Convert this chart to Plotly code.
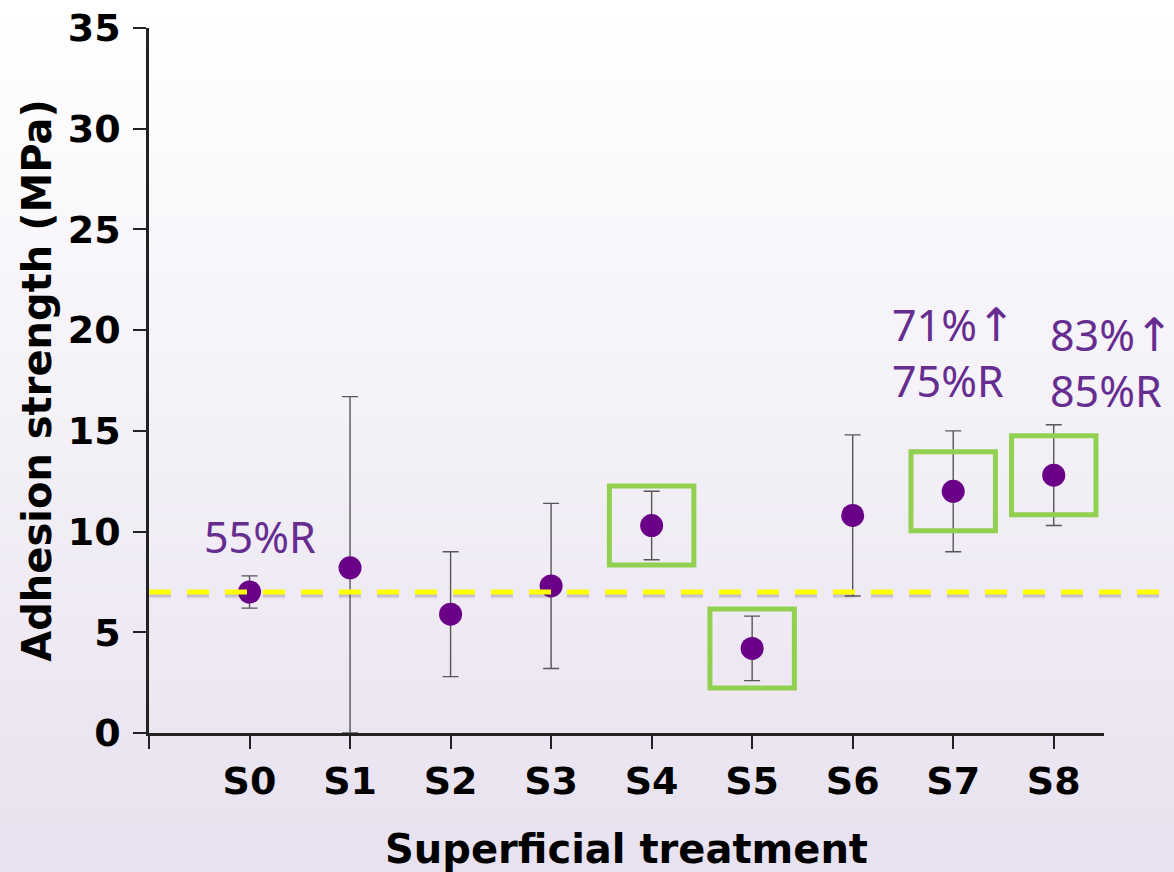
import base64
import struct
import zlib

import plotly.graph_objects as go

# ---------------- data ----------------
categories = ["S0", "S1", "S2", "S3", "S4", "S5", "S6", "S7", "S8"]
mean_strength = [7.0, 8.2, 5.9, 7.3, 10.3, 4.2, 10.8, 12.0, 12.8]
upper_strength = [7.8, 16.7, 9.0, 11.4, 12.0, 5.8, 14.8, 15.0, 15.3]
lower_strength = [6.2, 0.0, 2.8, 3.2, 8.6, 2.6, 6.8, 9.0, 10.3]
reference_level = 7.0
highlighted = ["S4", "S5", "S7", "S8"]
y_ticks = [0, 5, 10, 15, 20, 25, 30, 35]

notes = [  # (category, text lines, y position of text centre in MPa, x shift px)
    ("S0", ["55%R"], 9.75, 10),
    ("S7", ["71%↑", "75%R"], 18.9, 0),
    ("S8", ["83%↑", "85%R"], 18.4, 58),
]

# ---------------- layout constants ----------------
W, H = 1174, 872
ML, MR, MT, MB = 149, 70, 28, 139
X_RANGE = [-1, 8.5]
Y_RANGE = [0, 35]
BOX_HALF_W = 0.42
BOX_HALF_H = 1.96

TEXT_PURPLE = "#662d91"
MARKER_PURPLE = "#6a0088"
GREEN = "#92d050"


def gradient_png(height, top, bottom):
    rows = b""
    for i in range(height):
        t = i / (height - 1)
        px = bytes(int(round(top[k] + (bottom[k] - top[k]) * t)) for k in range(3))
        rows += b"\x00" + px

    def chunk(tag, data):
        c = struct.pack(">I", len(data)) + tag + data
        return c + struct.pack(">I", zlib.crc32(tag + data) & 0xFFFFFFFF)

    png = b"\x89PNG\r\n\x1a\n"
    png += chunk(b"IHDR", struct.pack(">IIBBBBB", 1, height, 8, 2, 0, 0, 0))
    png += chunk(b"IDAT", zlib.compress(rows))
    png += chunk(b"IEND", b"")
    return "data:image/png;base64," + base64.b64encode(png).decode()


def styled(line):
    # render the arrow glyph in DejaVu Sans so it is tall like the original
    return line.replace("↑", '<span style="font-family:DejaVu Sans;font-size:46px">↑</span>')


xs = list(range(len(categories)))
err_plus = [u - m for u, m in zip(upper_strength, mean_strength)]
err_minus = [m - l for m, l in zip(mean_strength, lower_strength)]

fig = go.Figure()
fig.add_trace(
    go.Scatter(
        x=xs,
        y=mean_strength,
        mode="markers",
        marker=dict(color=MARKER_PURPLE, size=23, line=dict(width=0)),
        error_y=dict(
            type="data",
            symmetric=False,
            array=err_plus,
            arrayminus=err_minus,
            color="rgba(60,60,60,0.85)",
            thickness=1.4,
            width=8,
        ),
        showlegend=False,
    )
)

pw = W - ML - MR
ph = H - MT - MB

shapes = []
ref_p = (reference_level - Y_RANGE[0]) / (Y_RANGE[1] - Y_RANGE[0])
x_end = (1160 - ML) / pw
for off, w, col in [(3.0, 7, "rgba(80,70,80,0.10)"), (2.5, 5, "rgba(80,70,80,0.16)")]:
    shapes.append(dict(type="line", xref="paper", yref="paper", x0=0, x1=x_end,
                       y0=ref_p - off / ph, y1=ref_p - off / ph,
                       line=dict(color=col, width=w, dash="22px,16px"),
                       layer="above"))
shapes.append(dict(type="line", xref="paper", yref="paper", x0=0, x1=x_end,
                   y0=ref_p, y1=ref_p,
                   line=dict(color="#ffff00", width=5, dash="22px,16px"),
                   layer="above"))
for c in highlighted:
    i = categories.index(c)
    v = mean_strength[i]
    shapes.append(dict(type="rect", xref="x", yref="y",
                       x0=i - BOX_HALF_W, x1=i + BOX_HALF_W,
                       y0=v - BOX_HALF_H, y1=v + BOX_HALF_H,
                       line=dict(color=GREEN, width=5), fillcolor="rgba(0,0,0,0)",
                       layer="above"))

annotations = []
for c, lines, ty, shift in notes:
    i = categories.index(c)
    annotations.append(dict(x=i, y=ty, xref="x", yref="y",
                            text="<br>".join(styled(l) for l in lines),
                            showarrow=False, xanchor="center", yanchor="middle",
                            xshift=shift, align="left",
                            font=dict(family="Noto Sans", size=43, color=TEXT_PURPLE)))

axis_common = dict(
    showgrid=False,
    zeroline=False,
    showline=True,
    linecolor="#222222",
    linewidth=2.5,
    ticks="outside",
    ticklen=13,
    tickwidth=2,
    tickcolor="#222222",
    automargin=False,
    tickfont=dict(family="DejaVu Sans", size=38, color="#000000", weight="bold"),
)

fig.update_layout(
    width=W,
    height=H,
    autosize=False,
    margin=dict(l=ML, r=MR, t=MT, b=MB, pad=0, autoexpand=False),
    paper_bgcolor="#ffffff",
    plot_bgcolor="rgba(0,0,0,0)",
    shapes=shapes,
    annotations=annotations,
    images=[dict(source=gradient_png(256, (255, 255, 255), (232, 225, 239)),
                 xref="paper", yref="paper",
                 x=-ML / pw, y=1 + MT / ph, sizex=W / pw, sizey=H / ph,
                 xanchor="left", yanchor="top", sizing="stretch", layer="below")],
    xaxis=dict(
        range=X_RANGE,
        tickvals=[-1] + xs,
        ticktext=[""] + categories,
        title=dict(text="Superficial treatment", standoff=40,
                   font=dict(family="DejaVu Sans", size=40, color="#000000", weight="bold")),
        **axis_common,
    ),
    yaxis=dict(
        range=Y_RANGE,
        tickvals=y_ticks,
        ticklabelstandoff=5,
        title=dict(text="Adhesion strength (MPa)", standoff=4,
                   font=dict(family="DejaVu Sans", size=40, color="#000000", weight="bold")),
        **axis_common,
    ),
)

fig.write_html("out.html")
